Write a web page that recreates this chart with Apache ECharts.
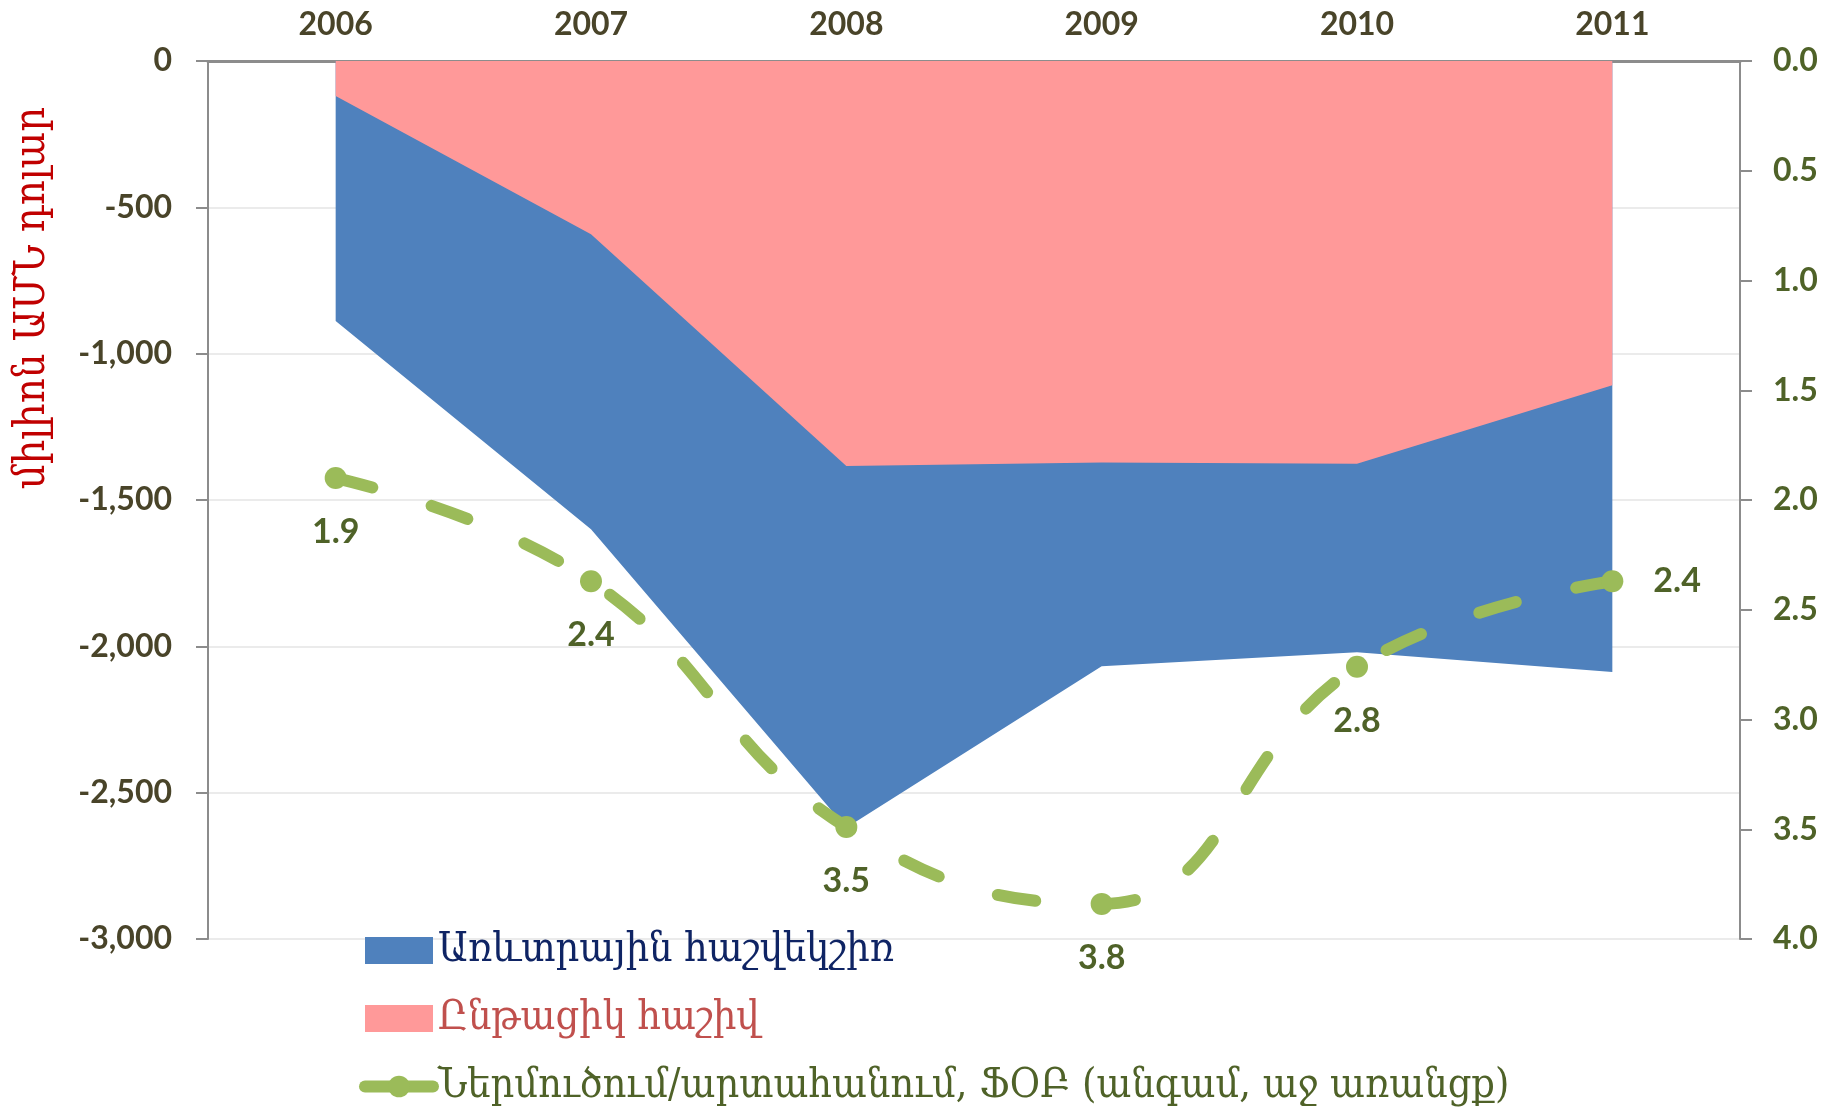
<!DOCTYPE html>
<html lang="hy">
<head>
    <meta charset="UTF-8">
    <title>Ընթացիկ հաշիվ</title>
    <script src="https://cdn.jsdelivr.net/npm/echarts@6/dist/echarts.min.js"></script>
    <style>
        html, body { margin: 0; padding: 0; background: #fff; }
    </style>
</head>
<body>
<div id="main" style="width: 1835px;height: 1118px;"></div>
<script>
    // data
    var years = ['2006', '2007', '2008', '2009', '2010', '2011']
    var tradeBalance = [-888, -1600, -2620, -2068, -2020, -2088]      // blue
    var currentAccount = [-120, -592, -1384, -1372, -1376, -1108]    // pink
    var fdiNet = [1.90, 2.37, 3.49, 3.84, 2.76, 2.37]                // right axis, green

    var nameTrade = 'Առևտրային հաշվեկշիռ'
    var nameCurrent = 'Ընթացիկ հաշիվ'
    var nameFdi = 'Ներմուծում/արտահանում, ՖՕԲ (անգամ, աջ առանցք)'

    var numFont = 'Lato'
    var armFont = '"DejaVu Serif Condensed", "DejaVu Serif", serif'

    // last point has its label on the right
    var fdiData = fdiNet.map(function (v, i) {
        if (i === fdiNet.length - 1) {
            return { value: v, label: { position: 'right', distance: 30 } }
        }
        return v
    })

    var mCharts = echarts.init(document.getElementById('main'))
    var option = {
        animation: false,
        grid: { left: 208, right: 95, top: 61, bottom: 179 },
        graphic: [{
            type: 'text',
            x: 33, y: 298,
            rotation: Math.PI / 2,
            style: {
                text: 'միլիոն ԱՄՆ դոլար',
                fill: '#C00000',
                font: '43px ' + armFont,
                align: 'center',
                verticalAlign: 'middle'
            }
        }],
        legend: {
            orient: 'vertical',
            left: 359,
            top: 930,
            padding: 0,
            itemWidth: 68,
            itemHeight: 27,
            itemGap: 27,
            itemTextGap: 9,
            textStyle: { fontFamily: armFont, fontSize: 41 },
            data: [
                { name: nameTrade, icon: 'rect', textStyle: { color: '#0F2464' } },
                { name: nameCurrent, icon: 'rect', textStyle: { color: '#C0504D' } },
                { name: nameFdi, textStyle: { color: '#4F6228' },
                  lineStyle: { type: 'solid', width: 12, cap: 'round' } }
            ]
        },
        xAxis: {
            type: 'category',
            position: 'top',
            data: years,
            boundaryGap: true,
            axisLine: { lineStyle: { color: '#8C8C8C', width: 3 } },
            axisTick: { inside: true, length: 11, lineStyle: { color: '#8C8C8C', width: 3 } },
            axisLabel: { margin: 20, color: '#494429', fontFamily: numFont, fontWeight: 'bold', fontSize: 32 }
        },
        yAxis: [
            {
                type: 'value',
                min: -3000, max: 0, interval: 500,
                axisLine: { show: true, lineStyle: { color: '#8C8C8C', width: 2 } },
                axisTick: { show: true, length: 12, lineStyle: { color: '#8C8C8C', width: 2 } },
                splitLine: { lineStyle: { color: '#EBEBEB', width: 2 } },
                axisLabel: {
                    margin: 36, color: '#494429', fontFamily: numFont, fontWeight: 'bold', fontSize: 32,
                    formatter: function (v) { return v.toLocaleString('en-US') }
                }
            },
            {
                type: 'value',
                min: 0, max: 4, interval: 0.5,
                inverse: true,
                position: 'right',
                axisLine: { show: true, lineStyle: { color: '#8C8C8C', width: 2 } },
                axisTick: { show: true, length: 12, lineStyle: { color: '#8C8C8C', width: 2 } },
                splitLine: { show: false },
                axisLabel: {
                    margin: 33, color: '#4F6228', fontFamily: numFont, fontWeight: 'bold', fontSize: 32,
                    formatter: function (v) { return v.toFixed(1) }
                }
            }
        ],
        series: [
            {
                name: nameTrade,
                type: 'line',
                data: tradeBalance,
                showSymbol: false,
                lineStyle: { width: 0 },
                itemStyle: { color: '#4F81BD' },
                areaStyle: { color: '#4F81BD', opacity: 1 },
                z: 2
            },
            {
                name: nameCurrent,
                type: 'line',
                data: currentAccount,
                showSymbol: false,
                lineStyle: { width: 0 },
                itemStyle: { color: '#FF9999' },
                areaStyle: { color: '#FF9999', opacity: 1 },
                z: 3
            },
            {
                name: nameFdi,
                type: 'line',
                yAxisIndex: 1,
                data: fdiData,
                smooth: 0.45,
                symbol: 'circle',
                symbolSize: 22,
                itemStyle: { color: '#9BBB59' },
                lineStyle: { color: '#9BBB59', width: 12, type: [38, 62], cap: 'round' },
                label: {
                    show: true,
                    position: 'bottom',
                    distance: 26,
                    color: '#4F6228',
                    fontFamily: numFont,
                    fontWeight: 'bold',
                    fontSize: 34,
                    formatter: function (p) { return p.value.toFixed(1) }
                },
                z: 5
            }
        ]
    }
    mCharts.setOption(option)
</script>
</body>
</html>
